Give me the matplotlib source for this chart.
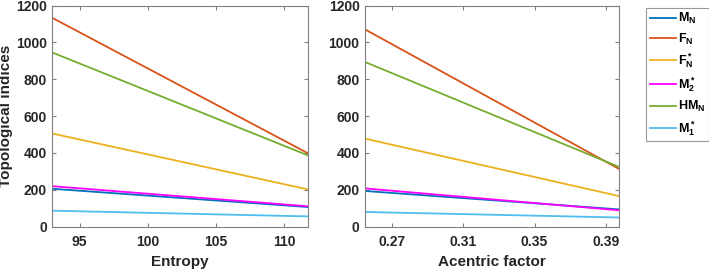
import matplotlib
matplotlib.use("Agg")
import matplotlib.pyplot as plt

plt.rcParams['font.family'] = ['Liberation Sans', 'DejaVu Sans']
plt.rcParams['font.weight'] = 'bold'
plt.rcParams['mathtext.fontset'] = 'custom'
plt.rcParams['mathtext.rm'] = 'Liberation Sans:bold'
plt.rcParams['mathtext.it'] = 'Liberation Sans:bold'
plt.rcParams['mathtext.bf'] = 'Liberation Sans:bold'

# data (end points of each line)
entropy = [93.0, 111.7]
acentric = [0.255, 0.3975]

labels = [r'$\mathrm{M_N}$', r'$\mathrm{F_N}$', r'$\mathrm{F^*_N}$',
          r'$\mathrm{M^*_2}$', r'$\mathrm{HM_N}$', r'$\mathrm{M^*_1}$']
colors = ['#0072BD', '#D95319', '#EDB120', '#FF00FF', '#77AC30', '#4DBEEE']

entropy_vals = [
    [205, 106],    # M_N
    [1133, 399],   # F_N
    [505, 202],    # F*_N
    [219, 110],    # M*_2
    [945, 387],    # HM_N
    [86, 55],      # M*_1
]
acentric_vals = [
    [193, 93],     # M_N
    [1070, 312],   # F_N
    [477, 165],    # F*_N
    [207, 88],     # M*_2
    [893, 323],    # HM_N
    [79, 49],      # M*_1
]

fig = plt.figure(figsize=(7.09, 2.70), dpi=100)
ax1 = fig.add_axes([0.0738, 0.161, 0.360, 0.8185])
ax2 = fig.add_axes([0.515, 0.161, 0.3585, 0.8185])

for ax, xs, vals, xl, xt in [
        (ax1, entropy, entropy_vals, 'Entropy', [95, 100, 105, 110]),
        (ax2, acentric, acentric_vals, 'Acentric factor', [0.27, 0.31, 0.35, 0.39])]:
    for v, c, lab in zip(vals, colors, labels):
        ax.plot(xs, v, color=c, lw=1.3, label=lab)
    ax.set_xlim(xs[0], xs[1])
    ax.set_ylim(0, 1200)
    ax.set_xticks(xt)
    ax.set_yticks(range(0, 1201, 200))
    ax.set_xlabel(xl, fontsize=11, fontweight='bold', color='#262626')
    ax.xaxis.set_label_coords(0.5, -0.13)
    ax.tick_params(direction='in', length=3, width=0.8, colors='#808080',
                   labelcolor='#262626', labelsize=10, top=True, right=True)
    ax.tick_params(axis='x', pad=6)
    ax.tick_params(axis='y', pad=4)
    for s in ax.spines.values():
        s.set_color('#808080')
        s.set_linewidth(0.8)

ax1.set_xticklabels(['95', '100', '105', '110'])
ax2.set_xticklabels(['0.27', '0.31', '0.35', '0.39'])
ax1.set_ylabel('Topological indices', fontsize=11, fontweight='bold', color='#262626')
ax1.yaxis.set_label_coords(-0.155, 0.5)

h, l = ax1.get_legend_handles_labels()
leg = fig.legend(h, l, loc='upper left', bbox_to_anchor=(0.911, 0.972),
                 fontsize=9, frameon=True, fancybox=False, handlelength=2.1,
                 handletextpad=0.2, labelspacing=0.4, borderpad=0.3,
                 borderaxespad=0)
leg.get_frame().set_edgecolor('#808080')
leg.get_frame().set_linewidth(0.8)

fig.savefig('out.png', dpi=100)
